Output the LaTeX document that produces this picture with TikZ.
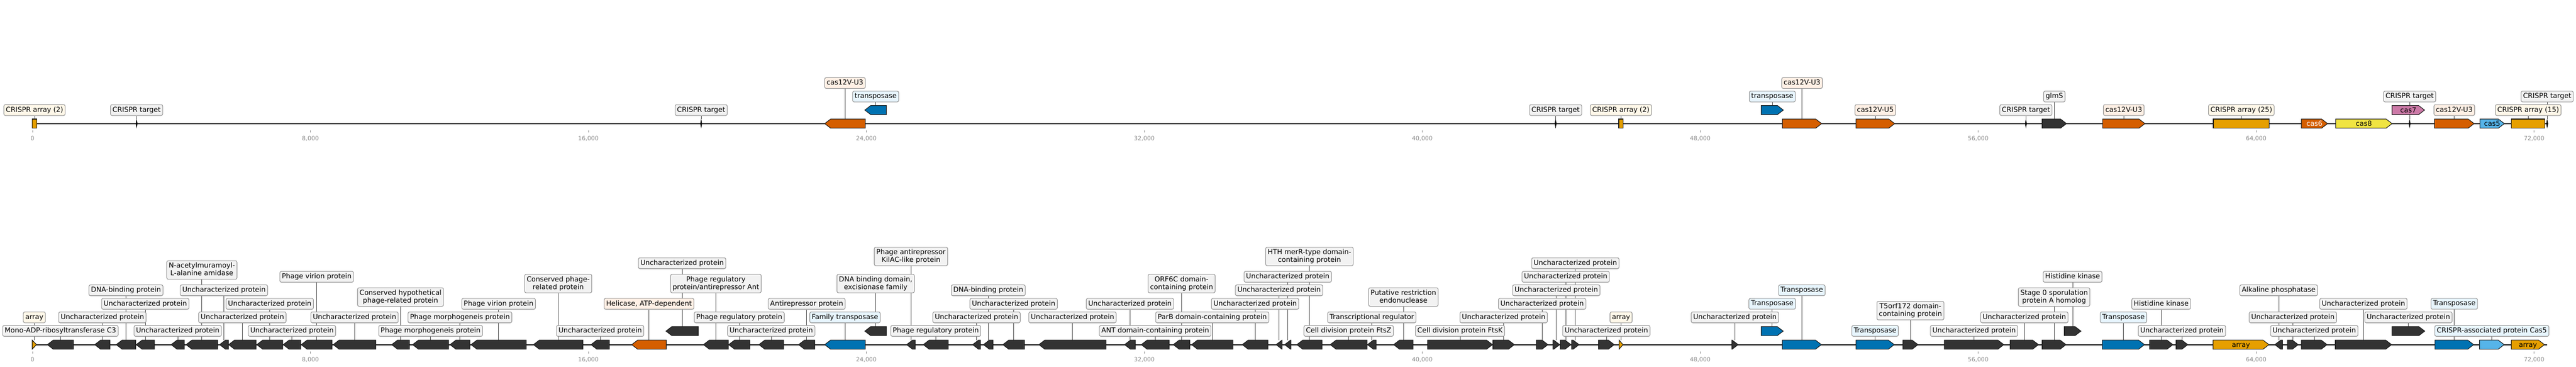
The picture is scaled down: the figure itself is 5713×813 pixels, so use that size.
\documentclass[tikz,border=0pt]{standalone}
\usepackage{fontspec}
\setmainfont{DejaVu Sans}
\pgfdeclarelayer{bg}
\pgfsetlayers{bg,main}
\definecolor{dk}{HTML}{333333}
\definecolor{tblue}{HTML}{0072B2}
\definecolor{cred}{HTML}{D55E00}
\definecolor{corange}{HTML}{E69F00}
\definecolor{cyel}{HTML}{F0E442}
\definecolor{cpink}{HTML}{CC79A7}
\definecolor{cskyb}{HTML}{56B4E9}
\definecolor{fgray}{HTML}{F2F2F2}
\definecolor{fcream}{HTML}{FFF8E9}
\definecolor{fpeach}{HTML}{FFF0E5}
\definecolor{fblue}{HTML}{E7F5FD}
\definecolor{bordc}{HTML}{8E8E8E}
\definecolor{tickc}{HTML}{888888}
\newcommand\labf{\fontsize{15.3pt}{17pt}\selectfont}
\newcommand\tickf{\fontsize{13pt}{15pt}\selectfont}
\newcommand\ls{\rule[-3.5pt]{0pt}{15pt}}
\tikzset{
 gene/.style={draw=black!90, line width=1.3pt, line join=miter},
 lab/.style={draw=bordc, line width=1.2pt, rounded corners=3.5pt, inner xsep=4.5pt, inner ysep=4.5pt, align=center, font=\labf},
 conn/.style={draw=black!75, line width=0.8pt},
 inlab/.style={inner sep=0pt, font=\labf, anchor=base},
 tickmk/.style={draw=tickc, line width=0.9pt},
 ticklab/.style={text=tickc, font=\tickf, inner sep=0pt, anchor=base},
 track/.style={line width=2.2pt, black},
}
% gene shape: dir x1 x2 yc color
\newcommand\gshape[5]{%
 \pgfmathsetmacro\tp{min(13,#3-#2)}%
 \if#1F%
  \filldraw[gene,fill=#5] (#2,#4-10) -- ({#3-\tp},#4-10) -- (#3,#4) -- ({#3-\tp},#4+10) -- (#2,#4+10) -- cycle;%
 \else%
  \filldraw[gene,fill=#5] (#3,#4-10) -- ({#2+\tp},#4-10) -- (#2,#4) -- ({#2+\tp},#4+10) -- (#3,#4+10) -- cycle;%
 \fi}
% feature with label box: name dir x1 x2 yc color labely labelfill text
\newcommand\feat[9]{%
 \gshape{#2}{#3}{#4}{#5}{#6}%
 \coordinate (#1) at ({(#3+#4)/2},#5-10);%
 \node[lab,fill=#8] (l#1) at ({(#3+#4)/2},#7) {\ls #9};%
 \begin{pgfonlayer}{bg}\draw[conn] (#1) -- (#1 |- l#1.south);\end{pgfonlayer}}
% feature with label inside: name dir x1 x2 yc color textcolor text
\newcommand\ifeat[8]{%
 \gshape{#2}{#3}{#4}{#5}{#6}%
 \node[inlab,text=#7] (#1) at ({(#3+#4)/2},#5+5.5) {#8};}
% CRISPR target marker: name x yc labely text
\newcommand\tmark[5]{%
 \fill[black] (#2,#3-11) -- (#2+2,#3) -- (#2,#3+11) -- (#2-2,#3) -- cycle;%
 \coordinate (#1) at (#2,#3-10);%
 \node[lab,fill=fgray] (l#1) at (#2,#4) {\ls #5};%
 \begin{pgfonlayer}{bg}\draw[conn] (#1) -- (#1 |- l#1.south);\end{pgfonlayer}}
% CRISPR array rectangle: name x1 x2 labely text
\newcommand\trect[5]{%
 \filldraw[gene,fill=corange] (#2,264) rectangle (#3,284);%
 \coordinate (#1) at ({(#2+#3)/2},264);%
 \node[lab,fill=fcream] (l#1) at ({(#2+#3)/2},#4) {\ls #5};%
 \begin{pgfonlayer}{bg}\draw[conn] (#1) -- (#1 |- l#1.south);\end{pgfonlayer}}
\begin{document}
\begin{tikzpicture}[x=1pt,y=-1pt]
\useasboundingbox (0,0) rectangle (5713,813);
% tracks
\coordinate (ts) at (72,274); \coordinate (te) at (5651,274);
\coordinate (bs) at (72,764); \coordinate (be) at (5649,764);
\begin{pgfonlayer}{bg}
\draw[track] (ts) -- (te);
\draw[track] (bs) -- (be);
\end{pgfonlayer}
% ticks (positions in kb)
\foreach \v/\t in {0/0,8/{8,000},16/{16,000},24/{24,000},32/{32,000},40/{40,000},48/{48,000},56/{56,000},64/{64,000},72/{72,000}}{
 \pgfmathsetmacro\xx{72+\v*77.056}
 \draw[tickmk] (\xx,289) -- (\xx,294);
 \node[ticklab] (tt\v) at (\xx,311.5) {\t};
 \draw[tickmk] (\xx,779) -- (\xx,784);
 \node[ticklab] (bt\v) at (\xx,801.5) {\t};
}
% ---------- top track ----------
\trect{t1}{71.4}{81.6}{244}{CRISPR array (2)}
\tmark{t2}{303}{274}{244}{CRISPR target}
\tmark{t3}{1555}{274}{244}{CRISPR target}
\feat{t4}{R}{1829}{1919}{274}{cred}{184}{fpeach}{cas12V-U3}
\feat{t5}{R}{1918}{1966}{244}{tblue}{214}{fblue}{transposase}
\tmark{t6}{3450}{274}{244}{CRISPR target}
\trect{t7}{3590}{3599.5}{244}{CRISPR array (2)}
\feat{t8}{F}{3906}{3955}{244}{tblue}{214}{fblue}{transposase}
\feat{t9}{F}{3953}{4040}{274}{cred}{184}{fpeach}{cas12V-U3}
\feat{t10}{F}{4116}{4202}{274}{cred}{244}{fpeach}{cas12V-U5}
\tmark{t11}{4493}{274}{244}{CRISPR target}
\feat{t12}{F}{4529}{4583}{274}{dk}{214}{fgray}{glmS}
\feat{t13}{F}{4663}{4757}{274}{cred}{244}{fpeach}{cas12V-U3}
\trect{t14}{4908.5}{5033}{244}{CRISPR array (25)}
\ifeat{t15}{F}{5104}{5162}{274}{cred}{white}{cas6}
\ifeat{t16}{F}{5180}{5305}{274}{cyel}{black}{cas8}
\tmark{t18}{5344}{274}{214}{CRISPR target}
\ifeat{t17}{F}{5305}{5377}{244}{cpink}{black}{cas7}
\feat{t19}{F}{5399}{5487}{274}{cred}{244}{fpeach}{cas12V-U3}
\ifeat{t20}{F}{5500}{5554}{274}{cskyb}{black}{cas5}
\trect{t21}{5570}{5644}{244}{CRISPR array (15)}
\tmark{t22}{5649}{274}{214}{CRISPR target}
% ---------- bottom track ----------
\feat{b1}{F}{71.4}{81}{764}{corange}{703.5}{fcream}{array}
\feat{b2}{R}{105}{163}{764}{dk}{733.5}{fgray}{Mono-ADP-ribosyltransferase C3}
\feat{b3}{R}{210}{244}{764}{dk}{703.5}{fgray}{Uncharacterized protein}
\feat{b4}{R}{257.7}{301}{764}{dk}{643.5}{fgray}{DNA-binding protein}
\feat{b5}{R}{302}{342.5}{764}{dk}{673.5}{fgray}{Uncharacterized protein}
\feat{b6}{R}{379.5}{408.8}{764}{dk}{733.5}{fgray}{Uncharacterized protein}
\feat{b7}{R}{412.6}{482.8}{764}{dk}{598.5}{fgray}{N-acetylmuramoyl-\\\ls L-alanine amidase}
\feat{b8}{R}{487}{506.4}{764}{dk}{643.5}{fgray}{Uncharacterized protein}
\feat{b9}{R}{507}{568}{764}{dk}{703.5}{fgray}{Uncharacterized protein}
\feat{b10}{R}{569.5}{627}{764}{dk}{673.5}{fgray}{Uncharacterized protein}
\feat{b11}{R}{628}{667}{764}{dk}{733.5}{fgray}{Uncharacterized protein}
\feat{b12}{R}{668}{736.6}{764}{dk}{613.5}{fgray}{Phage virion protein}
\feat{b13}{R}{739}{833.5}{764}{dk}{703.5}{fgray}{Uncharacterized protein}
\feat{b14}{R}{868.6}{908}{764}{dk}{658.5}{fgray}{Conserved hypothetical\\\ls phage-related protein}
\feat{b15}{R}{915}{995}{764}{dk}{733.5}{fgray}{Phage morphogeneis protein}
\feat{b16}{R}{998}{1042}{764}{dk}{703.5}{fgray}{Phage morphogeneis protein}
\feat{b17}{R}{1044.6}{1167}{764}{dk}{673.5}{fgray}{Phage virion protein}
\feat{b18}{R}{1183}{1293}{764}{dk}{628.5}{fgray}{Conserved phage-\\\ls related protein}
\feat{b19}{R}{1310.6}{1351.4}{764}{dk}{733.5}{fgray}{Uncharacterized protein}
\feat{b20}{R}{1401}{1477.7}{764}{cred}{673.5}{fpeach}{Helicase, ATP-dependent}
\feat{b21}{R}{1477}{1548.5}{734}{dk}{583.5}{fgray}{Uncharacterized protein}
\feat{b22}{R}{1560}{1615.4}{764}{dk}{628.5}{fgray}{Phage regulatory\\\ls protein/antirepressor Ant}
\feat{b23}{R}{1616}{1663}{764}{dk}{703.5}{fgray}{Phage regulatory protein}
\feat{b24}{R}{1683}{1738}{764}{dk}{733.5}{fgray}{Uncharacterized protein}
\feat{b25}{R}{1771}{1807}{764}{dk}{673.5}{fgray}{Antirepressor protein}
\feat{b26}{R}{1829}{1919}{764}{tblue}{703.5}{fblue}{Family transposase}
\feat{b27}{R}{1918}{1966}{734}{dk}{628.5}{fgray}{DNA binding domain,\\\ls excisionase family}
\feat{b28}{R}{2010.6}{2030}{764}{dk}{568.5}{fgray}{Phage antirepressor\\\ls KilAC-like protein}
\feat{b29}{R}{2047.6}{2103}{764}{dk}{733.5}{fgray}{Phage regulatory protein}
\feat{b30}{R}{2157}{2174.5}{764}{dk}{703.5}{fgray}{Uncharacterized protein}
\feat{b31}{R}{2181}{2202.5}{764}{dk}{643.5}{fgray}{DNA-binding protein}
\feat{b32}{R}{2224}{2272}{764}{dk}{673.5}{fgray}{Uncharacterized protein}
\feat{b33}{R}{2304}{2453}{764}{dk}{703.5}{fgray}{Uncharacterized protein}
\feat{b34}{R}{2494}{2518}{764}{dk}{673.5}{fgray}{Uncharacterized protein}
\feat{b35}{R}{2531}{2593}{764}{dk}{733.5}{fgray}{ANT domain-containing protein}
\feat{b36}{R}{2602}{2639}{764}{dk}{628.5}{fgray}{ORF6C domain-\\\ls containing protein}
\feat{b37}{R}{2642.6}{2734.4}{764}{dk}{703.5}{fgray}{ParB domain-containing protein}
\feat{b38}{R}{2755}{2812}{764}{dk}{673.5}{fgray}{Uncharacterized protein}
\feat{b39}{R}{2830}{2843.5}{764}{dk}{643.5}{fgray}{Uncharacterized protein}
\feat{b40}{R}{2849}{2863}{764}{dk}{613.5}{fgray}{Uncharacterized protein}
\feat{b41}{R}{2876}{2932}{764}{dk}{568.5}{fgray}{HTH merR-type domain-\\\ls containing protein}
\feat{b42}{R}{2950}{3032}{764}{dk}{733.5}{fgray}{Cell division protein FtsZ}
\feat{b43}{R}{3032.7}{3052}{764}{dk}{703.5}{fgray}{Transcriptional regulator}
\feat{b44}{R}{3090.7}{3134}{764}{dk}{658.5}{fgray}{Putative restriction\\\ls endonuclease}
\feat{b45}{F}{3166}{3310}{764}{dk}{733.5}{fgray}{Cell division protein FtsK}
\feat{b46}{F}{3311}{3358.5}{764}{dk}{703.5}{fgray}{Uncharacterized protein}
\feat{b47}{F}{3407}{3433}{764}{dk}{673.5}{fgray}{Uncharacterized protein}
\feat{b48}{F}{3444}{3459}{764}{dk}{643.5}{fgray}{Uncharacterized protein}
\feat{b49}{F}{3460.6}{3484}{764}{dk}{613.5}{fgray}{Uncharacterized protein}
\feat{b50}{F}{3485.5}{3502}{764}{dk}{583.5}{fgray}{Uncharacterized protein}
\feat{b51}{F}{3545}{3580}{764}{dk}{733.5}{fgray}{Uncharacterized protein}
\feat{b52}{F}{3590.7}{3599.6}{764}{corange}{703.5}{fcream}{array}
\feat{b53}{F}{3840.7}{3854.7}{764}{dk}{703.5}{fgray}{Uncharacterized protein}
\feat{b54}{F}{3906}{3954.6}{734}{tblue}{673.5}{fblue}{Transposase}
\feat{b55}{F}{3952.7}{4039.4}{764}{tblue}{643.5}{fblue}{Transposase}
\feat{b56}{F}{4116}{4201}{764}{tblue}{733.5}{fblue}{Transposase}
\feat{b57}{F}{4220}{4253.7}{764}{dk}{688.5}{fgray}{T5orf172 domain-\\\ls containing protein}
\feat{b58}{F}{4312}{4444}{764}{dk}{733.5}{fgray}{Uncharacterized protein}
\feat{b59}{F}{4458}{4521}{764}{dk}{703.5}{fgray}{Uncharacterized protein}
\feat{b60}{F}{4529}{4582}{764}{dk}{658.5}{fgray}{Stage 0 sporulation\\\ls protein A homolog}
\feat{b61}{F}{4578}{4615}{734}{dk}{613.5}{fgray}{Histidine kinase}
\feat{b62}{F}{4662.5}{4756}{764}{tblue}{703.5}{fblue}{Transposase}
\feat{b63}{F}{4767}{4819}{764}{dk}{673.5}{fgray}{Histidine kinase}
\feat{b64}{F}{4826}{4852}{764}{dk}{733.5}{fgray}{Uncharacterized protein}
\ifeat{b65}{F}{4908}{5032}{764}{corange}{black}{array}
\feat{b66}{R}{5045}{5062}{764}{dk}{643.5}{fgray}{Alkaline phosphatase}
\feat{b67}{F}{5073}{5097}{764}{dk}{703.5}{fgray}{Uncharacterized protein}
\feat{b68}{F}{5104}{5161}{764}{dk}{733.5}{fgray}{Uncharacterized protein}
\feat{b69}{F}{5179}{5304}{764}{dk}{673.5}{fgray}{Uncharacterized protein}
\feat{b70}{F}{5305}{5377.5}{734}{dk}{703.5}{fgray}{Uncharacterized protein}
\feat{b71}{F}{5400}{5486}{764}{tblue}{673.5}{fblue}{Transposase}
\feat{b72}{F}{5499}{5553.6}{764}{cskyb}{733.5}{fblue}{CRISPR-associated protein Cas5}
\ifeat{b73}{F}{5569.5}{5643}{764}{corange}{black}{array}
\end{tikzpicture}
\end{document}
